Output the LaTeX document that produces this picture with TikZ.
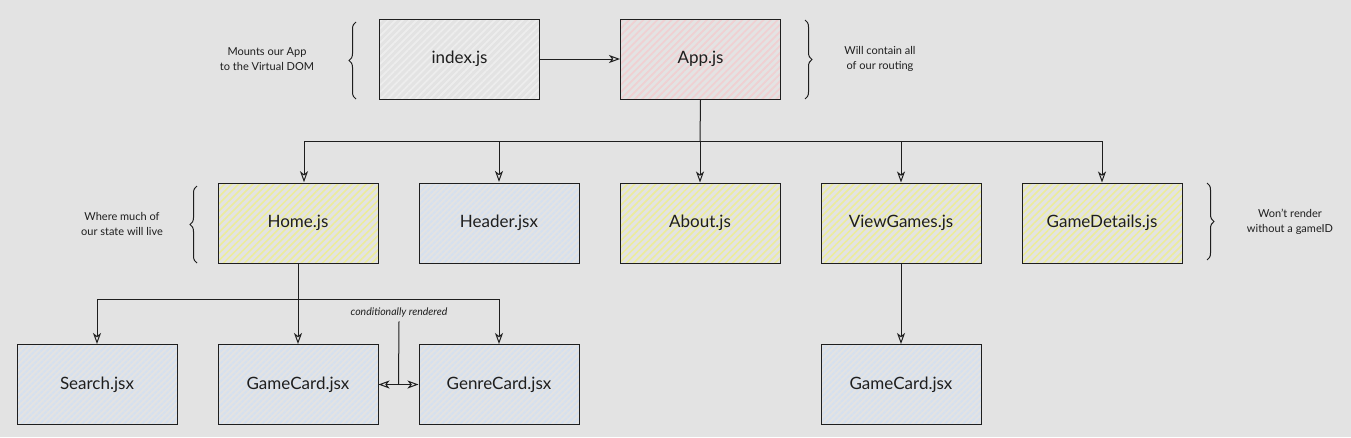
\documentclass[tikz,border=0pt]{standalone}
\usepackage{fontspec}
\setmainfont{Lato}
\usetikzlibrary{arrows.meta,patterns.meta,decorations.pathreplacing,calc}
\definecolor{bg}{HTML}{E3E3E3}
\definecolor{ink}{HTML}{1E1E1E}
\definecolor{hyellow}{HTML}{ECEC9A}
\definecolor{hblue}{HTML}{D6E0EE}
\definecolor{hred}{HTML}{F0D0D2}
\definecolor{hgray}{HTML}{EDEDED}
\tikzset{
  box/.style={draw=ink, line width=1pt, minimum width=160pt, minimum height=80pt,
    font=\fontsize{17}{19}\selectfont, text=ink},
  yelbox/.style={box, preaction={fill=bg}, pattern={Lines[angle=45,distance=5pt,line width=1.6pt]}, pattern color=hyellow},
  bluebox/.style={box, preaction={fill=bg}, pattern={Lines[angle=45,distance=4pt,line width=2.2pt]}, pattern color=hblue},
  redbox/.style={box, preaction={fill=bg}, pattern={Lines[angle=45,distance=5pt,line width=1.8pt]}, pattern color=hred},
  graybox/.style={box, preaction={fill=bg}, pattern={Lines[angle=45,distance=5pt,line width=1.8pt]}, pattern color=hgray},
  conn/.style={draw=ink, line width=1pt},
  arr/.style={conn, -{Stealth[open,length=11pt,width=8pt,inset=3pt]}},
  darr/.style={conn, {Stealth[open,length=11pt,width=8pt,inset=3pt]}-{Stealth[open,length=11pt,width=8pt,inset=3pt]}},
  note/.style={align=center, font=\fontsize{11}{15.5}\selectfont, text=ink},
  brc/.style={draw=ink, line width=1pt, decorate, decoration={brace, amplitude=7pt}},
}
\begin{document}
\begin{tikzpicture}[x=1pt,y=-1pt]
\useasboundingbox (0,0) rectangle (1351,437);
\fill[bg] (0,0) rectangle (1351,437);

% top row
\node[graybox] (index) at (459.5,59) {index.js};
\node[redbox] (app) at (700.5,59) {App.js};
% second row
\node[yelbox] (home) at (298,223) {Home.js};
\node[bluebox] (header) at (499,223) {Header.jsx};
\node[yelbox] (about) at (700,223) {About.js};
\node[yelbox] (viewgames) at (901,223) {ViewGames.js};
\node[yelbox] (details) at (1102,223) {GameDetails.js};
% third row
\node[bluebox] (search) at (97,384.5) {Search.jsx};
\node[bluebox] (gamecard) at (298,384.5) {GameCard.jsx};
\node[bluebox] (genrecard) at (499,384.5) {GenreCard.jsx};
\node[bluebox] (gamecard2) at (901,384.5) {GameCard.jsx};

% notes
\node[note] (n1) at (267,59) {Mounts our App\\to the Virtual DOM};
\node[note] (n2) at (880,59) {Will contain all\\of our routing};
\node[note] (n3) at (122,224) {Where much of\\our state will live};
\node[note] (n4) at (1290,222) {Won't render\\without a gameID};
\node[font=\fontsize{10.5}{12}\selectfont\itshape, text=ink] (cond) at (399,313) {conditionally rendered};

% braces
\draw[brc] (356,99) -- (356,22);
\draw[brc] (805,20) -- (805,99);
\draw[brc] (197,263) -- (197,186);
\draw[brc] (1207,183) -- (1207,260);

% connectors
\draw[arr] (index) -- (app);
\coordinate (bus1) at (700,141);
\draw[conn] (app.south) -- (bus1);
\draw[arr] (bus1) -| ([xshift=6pt]home.north);
\draw[arr] (bus1) -| (header.north);
\draw[arr] (bus1) -- (about.north);
\draw[arr] (bus1) -| (viewgames.north);
\draw[arr] (bus1) -| (details.north);

\coordinate (bus2) at (298,299);
\draw[conn] (home.south) -- (bus2);
\draw[arr] (bus2) -| (search.north);
\draw[arr] (bus2) -- (gamecard.north);
\draw[arr] (bus2) -| (genrecard.north);

\draw[arr] (viewgames.south) -- (gamecard2.north);

\draw[darr] (gamecard.east) -- (genrecard.west);
\coordinate (mid) at ($(gamecard.east)!0.5!(genrecard.west)$);
\draw[conn] (cond.south) -- (mid);
\end{tikzpicture}
\end{document}
